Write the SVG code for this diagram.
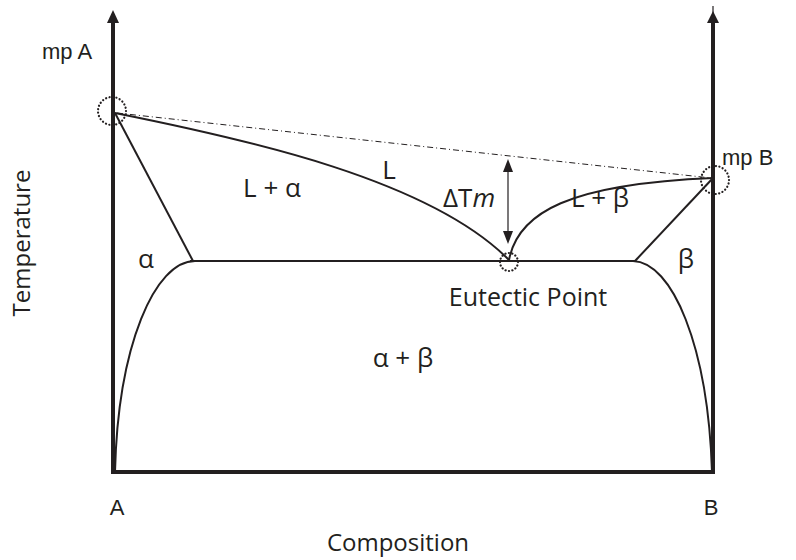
<svg xmlns="http://www.w3.org/2000/svg" width="796" height="560" viewBox="0 0 796 560">
<style>
.ax{stroke:#231f20;stroke-width:4;fill:none}
.cv{stroke:#231f20;stroke-width:2;fill:none}
.thin{stroke:#231f20;stroke-width:1.2;fill:none}
.hd{fill:#231f20}
.dd{stroke:#231f20;stroke-width:1;fill:none;stroke-dasharray:6 3 1 3}
.dot{stroke:#231f20;stroke-width:2.2;fill:none;stroke-dasharray:0.1 3.4;stroke-linecap:round}
.t{font-family:"Open Sans","Liberation Sans",sans-serif;font-size:26px;fill:#231f20}
.s{font-size:24px}
.e{font-size:25px}
.h{font-family:"Liberation Sans",Arial,sans-serif;font-size:22px;fill:#231f20}
</style>
<g id="axes">
<line class="ax" x1="113" y1="474" x2="113" y2="20"/>
<path class="hd" d="M107,23 L113,10 L119,23 Z"/>
<line class="ax" x1="713" y1="474" x2="713" y2="20"/>
<path class="hd" d="M707,23 L713,11 L719,23 Z"/>
<line class="thin" x1="713" y1="6" x2="713" y2="14"/>
<line class="ax" x1="111" y1="472" x2="715" y2="472"/>
</g>
<g id="connectors">
<path id="liquidus-left" class="cv" d="M115,113 C250,140 430,180 509,260"/>
<path id="liquidus-right" class="cv" d="M509,260 C518,212 570,184 713,178"/>
<path id="solidus-alpha" class="cv" d="M115,113 L193,261"/>
<path id="solidus-beta" class="cv" d="M713,178 L635,261"/>
<path id="eutectic-line" class="cv" d="M190,261 L636,261"/>
<path id="solvus-alpha" class="cv" d="M115,472 C118,345 155,261 195,261"/>
<path id="solvus-beta" class="cv" d="M633,261 C672,262 708,345 712,472"/>
<line id="ideal-line" class="dd" x1="117" y1="113" x2="711" y2="178"/>
<g id="delta-tm-arrow">
<line class="thin" x1="508" y1="168" x2="508" y2="236"/>
<path class="hd" d="M503,172 L508,159 L513,172 Z"/>
<path class="hd" d="M503,231 L508,244 L513,231 Z"/>
</g>
</g>
<g id="mpA">
<circle class="dot" cx="112" cy="111" r="14"/>
<text class="h" x="42" y="59">mp A</text>
</g>
<g id="mpB">
<circle class="dot" cx="715" cy="180" r="14"/>
<text class="h" x="722" y="165">mp B</text>
</g>
<g id="eutectic">
<circle class="dot" cx="509" cy="262" r="9"/>
<text class="t e" x="528" y="306" text-anchor="middle">Eutectic Point</text>
</g>
<g id="labels">
<text class="t" x="389" y="179" text-anchor="middle">L</text>
<text class="t" x="272" y="197" text-anchor="middle">L + α</text>
<text class="t" x="146" y="268" text-anchor="middle">α</text>
<text class="t" x="443" y="207">ΔT<tspan font-style="italic">m</tspan></text>
<text class="t" x="600" y="207" text-anchor="middle">L + β</text>
<text class="t" x="686" y="268" text-anchor="middle">β</text>
<text class="t" x="403" y="367" text-anchor="middle">α + β</text>
</g>
<g id="axis-labels">
<text class="h" x="117" y="515" text-anchor="middle">A</text>
<text class="h" x="711" y="515" text-anchor="middle">B</text>
<text class="t s" x="398" y="551" text-anchor="middle">Composition</text>
<text class="t s" transform="translate(30,243) rotate(-90)" text-anchor="middle">Temperature</text>
</g>
</svg>
